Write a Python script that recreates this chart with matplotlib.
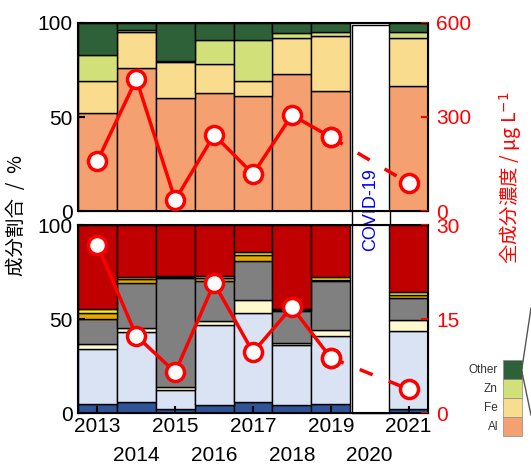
import matplotlib
matplotlib.use('Agg')
import matplotlib.pyplot as plt
from matplotlib.patches import Rectangle
import numpy as np

plt.rcParams['font.family'] = ['Arial', 'Liberation Sans', 'Noto Sans CJK JP', 'DejaVu Sans']

years = [2013, 2014, 2015, 2016, 2017, 2018, 2019, 2021]

# top panel, cumulative tops (%) : Al, Fe, Zn, Other
top_names = ['Al', 'Fe', 'Zn', 'Other']
top_colors = ['#f4a070', '#f9dc8e', '#d2e07a', '#2e6137']
top_cum = [
    [52, 69, 83, 100],
    [76, 95, 96.5, 100],
    [60, 79, 80, 100],
    [63, 78, 91, 100],
    [61, 69, 91, 100],
    [73, 92, 94.5, 100],
    [64, 93, 95, 100],
    [66.5, 92, 95, 100],
]
top_conc = [160, 421, 35, 243, 118, 306, 236, 89]

# bottom panel, cumulative tops (%)
bot_colors = ['#2f5597', '#dae3f3', '#fffacd', '#808080', '#e6a800', '#f2ea2a', '#c00000']
bot_cum = [
    [5, 34, 36.5, 50, 53, 55.5, 100],
    [6, 43, 45, 69, 71.5, 72.5, 100],
    [2, 12, 14, 72, 72.5, 73, 100],
    [4, 47, 49, 70, 72, 73, 100],
    [6, 53, 60, 81, 84, 85.5, 100],
    [4, 36, 37, 54, 55, 55.5, 100],
    [5, 41, 44, 70, 71, 72.5, 100],
    [2, 43.5, 49.5, 61, 63, 64.5, 100],
]
bot_conc = [26.8, 12.3, 6.5, 20.7, 9.7, 16.9, 8.8, 3.8]

fig = plt.figure(figsize=(5.31, 4.69), dpi=100)
W, H = 531, 469
ax1 = fig.add_axes([78 / W, 1 - 211 / H, 350 / W, 188 / H])
ax2 = fig.add_axes([78 / W, 1 - 413 / H, 350 / W, 188 / H])


def draw(ax, cum, colors, conc, rmax):
    ax.patch.set_alpha(0)
    cum = np.array(cum)
    for j in range(cum.shape[1]):
        bottom = cum[:, j - 1] if j > 0 else np.zeros(len(years))
        ax.bar(years, cum[:, j] - bottom, bottom=bottom, width=1.0,
               color=colors[j], edgecolor='black', linewidth=1)
    ax.set_xlim(2012.5, 2021.5)
    ax.set_ylim(0, 100)
    ax.set_yticks([0, 50, 100])
    ax.tick_params(direction='in', labelsize=15, width=1.5, length=5, pad=4)
    for s in ax.spines.values():
        s.set_linewidth(1.5)
    r = ax.twinx()
    r.plot(years[:7], conc[:7], '-o', color='red', lw=2.5, ms=13,
           mfc='white', mec='red', mew=2.5, zorder=5)
    r.plot(years[6:], conc[6:], '--o', color='red', lw=2.5, ms=13,
           mfc='white', mec='red', mew=2.5, dashes=(4, 5), zorder=5)
    r.set_ylim(0, rmax)
    r.set_yticks([0, rmax / 2, rmax])
    r.yaxis.set_major_formatter(lambda v, p: '%d' % v)
    r.tick_params(direction='in', labelsize=15, colors='red', width=1.5, length=5, pad=6)
    r.spines['right'].set_color('black')
    r.set_xlim(2012.5, 2021.5)
    return r


r1 = draw(ax1, top_cum, top_colors, top_conc, 600)
r2 = draw(ax2, bot_cum, bot_colors, bot_conc, 30)
ax1.set_xticks([])
ax2.set_xticks([2013, 2015, 2017, 2019, 2021])
ax2.set_xticks([2014, 2016, 2018, 2020], minor=True)
ax2.set_xticklabels(['2014', '2016', '2018', '2020'], minor=True)
ax2.tick_params(axis='x', which='minor', pad=24, length=0, labelsize=15)
ax2.tick_params(axis='x', which='major', pad=3, labelsize=15)

# COVID-19 box over 2020, behind the (transparent) axes so the dashed line shows
fig.patches.append(Rectangle((352 / W, 1 - 413 / H), 38 / W, 388 / H,
                             transform=fig.transFigure, facecolor='white',
                             edgecolor='black', lw=1, zorder=-1))
fig.text(371 / W, 1 - 210 / H, 'COVID-19', color='blue', rotation=90,
         ha='center', va='center', fontsize=13, zorder=-0.5)

fig.text(17 / W, 1 - 215 / H, '成分割合  /  %', rotation=90, ha='center',
         va='center', fontsize=14, family=['Noto Sans CJK JP', 'DejaVu Sans'])
fig.text(511 / W, 1 - 178 / H, '全成分濃度 / μg L$^{-1}$', rotation=90,
         ha='center', va='center', fontsize=14, color='red',
         family=['Noto Sans CJK JP', 'DejaVu Sans'])

# legend (partly visible)
for i, (n, c) in enumerate(zip(top_names, top_colors)):
    y = 1 - (436 - i * 19) / H
    fig.patches.append(Rectangle((503 / W, y), 19 / W, 19 / H,
                                 transform=fig.transFigure, facecolor=c,
                                 edgecolor='#888888', lw=0.5))
    fig.text(498 / W, y + 9 / H, n, ha='right', va='center', fontsize=8.5,
             color='#333333')
fig.add_artist(plt.Line2D([522 / W, 531 / W], [1 - 368 / H, 1 - 308 / H],
                          transform=fig.transFigure, color='#555555', lw=1))
fig.add_artist(plt.Line2D([522 / W, 531 / W], [1 - 372 / H, 1 - 415 / H],
                          transform=fig.transFigure, color='#555555', lw=1))

plt.savefig('out.png', dpi=100)
